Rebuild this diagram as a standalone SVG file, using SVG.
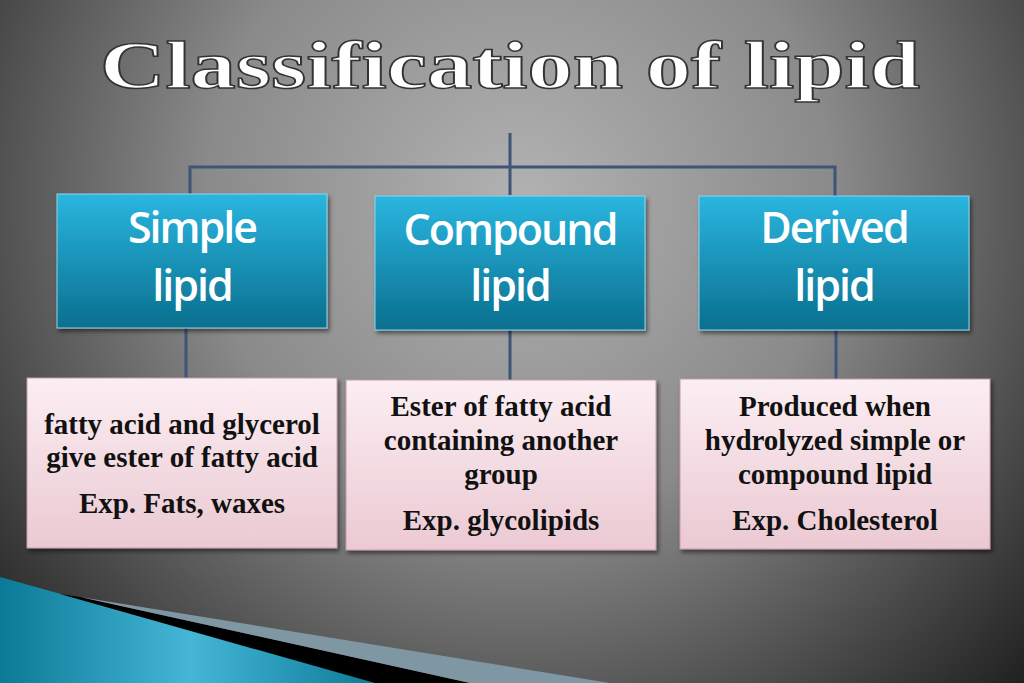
<svg xmlns="http://www.w3.org/2000/svg" width="1024" height="683" viewBox="0 0 1024 683">
<defs>
<radialGradient id="bg" cx="520" cy="200" r="700" gradientUnits="userSpaceOnUse">
<stop offset="0" stop-color="#b2b2b2"/><stop offset="0.45" stop-color="#8a8a8a"/><stop offset="1" stop-color="#202020"/>
</radialGradient>
<linearGradient id="blue" x1="0" y1="0" x2="0" y2="1">
<stop offset="0" stop-color="#2ab6e0"/><stop offset="1" stop-color="#0a6f8e"/>
</linearGradient>
<linearGradient id="pink" x1="0" y1="0" x2="0" y2="1">
<stop offset="0" stop-color="#fbeef2"/><stop offset="1" stop-color="#ebc9d3"/>
</linearGradient>
<linearGradient id="teal" x1="0" y1="0" x2="1" y2="0">
<stop offset="0" stop-color="#0a7a96"/><stop offset="0.5" stop-color="#45b6d6"/><stop offset="1" stop-color="#0a7a96"/>
</linearGradient>
<filter id="sh"><feDropShadow dx="2" dy="3" stdDeviation="2" flood-opacity="0.5"/></filter>
</defs>
<style>
.hd{fill:url(#blue);stroke:#8fd3ea;stroke-width:1;filter:url(#sh)}
.bx{fill:url(#pink);stroke:#c89aa8;stroke-width:1;filter:url(#sh)}
.ht{font-family:"Open Sans","DejaVu Sans",sans-serif;font-weight:600;font-size:43px;fill:#fff;text-anchor:middle;letter-spacing:-2px}
.bt{font-family:"Liberation Serif",serif;font-weight:bold;font-size:29px;fill:#111;text-anchor:middle}
.ln{stroke:#3d5577;stroke-width:3;fill:none}
</style>
<rect width="1024" height="683" fill="url(#bg)"/>
<polygon points="0,577 380,683 0,683" fill="url(#teal)"/>
<polygon points="60,594 80,597 470,683 375,683" fill="#000"/>
<polygon points="80,597 610,683 470,683" fill="#7f97a3"/>
<text x="510" y="88" font-family="'Liberation Serif',serif" font-weight="bold" font-size="68" fill="#fff" stroke="#333" stroke-width="1.5" text-anchor="middle" textLength="820" lengthAdjust="spacingAndGlyphs">Classification of lipid</text>
<g id="connectors" class="ln">
<path d="M510,133 V195 M190,195 V167 H835 V197 M186,328 V378 M510,330 V380 M836,330 V380"/>
</g>
<g id="simple"><rect class="hd" x="57" y="194" width="270" height="134"/><text class="ht" x="192" y="243">Simple</text><text class="ht" x="192" y="301">lipid</text></g>
<g id="compound"><rect class="hd" x="375" y="196" width="270" height="134"/><text class="ht" x="510" y="245">Compound</text><text class="ht" x="510" y="301">lipid</text></g>
<g id="derived"><rect class="hd" x="699" y="196" width="270" height="134"/><text class="ht" x="834" y="243">Derived</text><text class="ht" x="834" y="301">lipid</text></g>
<g id="b1"><rect class="bx" x="27" y="378" width="310" height="170"/><text class="bt" x="182" y="434">fatty acid and glycerol</text><text class="bt" x="182" y="467">give ester of fatty acid</text><text class="bt" x="182" y="513">Exp. Fats, waxes</text></g>
<g id="b2"><rect class="bx" x="346" y="380" width="310" height="170"/><text class="bt" x="501" y="416">Ester of fatty acid</text><text class="bt" x="501" y="450">containing another</text><text class="bt" x="501" y="484">group</text><text class="bt" x="501" y="530">Exp. glycolipids</text></g>
<g id="b3"><rect class="bx" x="680" y="379" width="310" height="170"/><text class="bt" x="835" y="416">Produced when</text><text class="bt" x="835" y="450">hydrolyzed simple or</text><text class="bt" x="835" y="484">compound lipid</text><text class="bt" x="835" y="530">Exp. Cholesterol</text></g>
</svg>
